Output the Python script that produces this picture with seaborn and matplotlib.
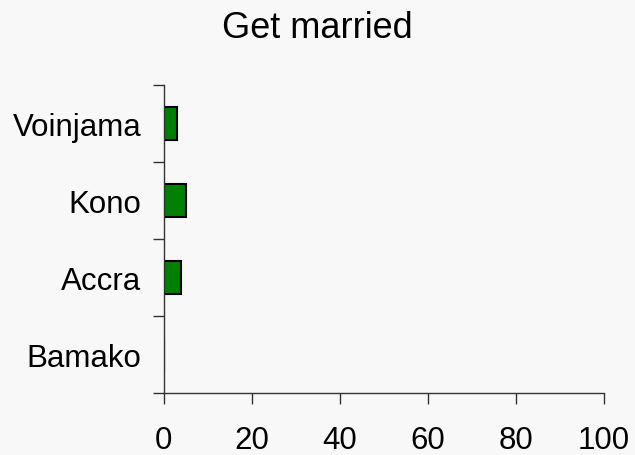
import matplotlib
matplotlib.use("Agg")
import matplotlib.pyplot as plt
import seaborn as sns
import numpy as np
import pandas as pd

# Share of respondents answering "Get married", by site
sites = ["Voinjama", "Kono", "Accra", "Bamako"]
values = [3, 5, 4, 0]
x_ticks = [0, 20, 40, 60, 80, 100]

sns.set_theme(style="white")
plt.rcParams["font.family"] = ["Liberation Sans", "DejaVu Sans"]
plt.rcParams["text.color"] = "black"
plt.rcParams["xtick.color"] = "black"
plt.rcParams["ytick.color"] = "black"

bg = "#f8f8f8"
fig = plt.figure(figsize=(6.35, 4.56), dpi=100, facecolor=bg)
ax = fig.add_axes([0.258, 0.136, 0.693, 0.675], facecolor=bg)

df = pd.DataFrame({"site": sites, "value": values})
sns.barplot(data=df, x="value", y="site", orient="h", order=sites,
            color="#008000", saturation=1, width=0.42,
            edgecolor="black", linewidth=1.5, ax=ax)

ax.set_xlim(0, 100)
ax.set_ylim(len(sites) - 0.5, -0.5)
ax.set_xticks(x_ticks)
ax.set_xticklabels([str(t) for t in x_ticks], fontsize=22.5, color="black")
ax.set_xlabel("")
ax.set_ylabel("")

# category labels sit between boundary tick marks
ax.set_yticks(np.arange(len(sites)))
ax.set_yticklabels(sites, fontsize=22.5, color="black")
ax.set_yticks(np.arange(len(sites) + 1) - 0.5, minor=True)
ax.tick_params(axis="y", which="major", length=0, pad=16)
ax.tick_params(axis="y", which="minor", length=8, width=1, color="#333333",
               direction="out", left=True)
ax.tick_params(axis="x", which="major", length=8, width=1, color="#333333",
               direction="out", bottom=True, pad=15)

for side in ["top", "right"]:
    ax.spines[side].set_visible(False)
for side in ["left", "bottom"]:
    ax.spines[side].set_color("#333333")
    ax.spines[side].set_linewidth(1)

fig.text(0.5, 0.937, "Get married", ha="center", va="center",
         fontsize=26, color="black")

fig.savefig("out.png", dpi=100, facecolor=bg)
